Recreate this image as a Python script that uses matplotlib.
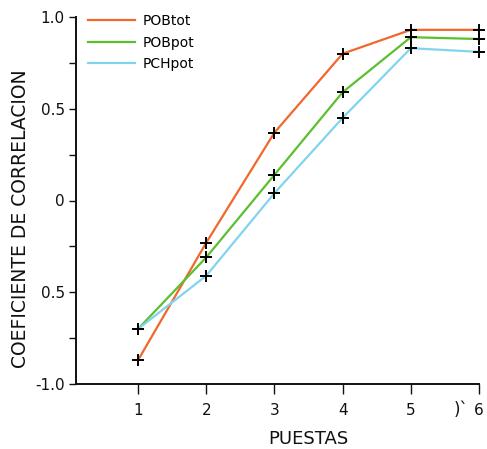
import matplotlib
matplotlib.use("Agg")
import matplotlib.pyplot as plt
from matplotlib.lines import Line2D

# Correlation coefficient by laying number
puestas = [1, 2, 3, 4, 5, 6]
pob_tot = [-0.87, -0.23, 0.37, 0.80, 0.93, 0.93]
pob_pot = [-0.70, -0.31, 0.14, 0.59, 0.89, 0.88]
pch_pot = [-0.70, -0.41, 0.04, 0.45, 0.83, 0.81]

series_names = ["POBtot", "POBpot", "PCHpot"]
series_colors = ["#F0682C", "#5CBF2F", "#82D4EE"]

y_ticks = [-1.0, -0.75, -0.5, -0.25, 0.0, 0.25, 0.5, 0.75, 1.0]
y_tick_labels = ["-1.0", "", "0.5", "", "0", "", "0.5", "", "1.0"]
x_tick_labels = ["1", "2", "3", "4", "5", "6"]

plt.rcParams["font.family"] = ["DejaVu Sans"]

fig = plt.figure(figsize=(4.87, 4.49), dpi=100)
W, H = 487, 449
ax = fig.add_axes([76 / W, 1 - 384 / H, (479 - 76) / W, (384 - 17) / H])

for vals, color in zip([pob_tot, pob_pot, pch_pot], series_colors):
    ax.plot(puestas, vals, color=color, lw=1.6, zorder=2)
    ax.plot(puestas, vals, ls="none", marker="+", ms=8, mew=1.4,
            color="black", zorder=3, clip_on=False)

ax.set_xlim(0.09, 6)
ax.set_ylim(-1.0, 1.0)

for side in ("top", "right"):
    ax.spines[side].set_visible(False)
for side in ("left", "bottom"):
    ax.spines[side].set_linewidth(1.4)
    ax.spines[side].set_color("#111111")

ax.set_yticks(y_ticks)
ax.set_yticklabels(y_tick_labels)
ax.set_xticks(puestas)
ax.set_xticklabels(x_tick_labels)
ax.tick_params(axis="y", direction="out", length=5, width=1.0,
               labelsize=11, pad=3, colors="#111111")
ax.tick_params(axis="x", direction="out", length=7, width=1.0,
               labelsize=11, pad=7, colors="#111111")
# longer end mark at the last laying
ax.set_xticks([6], minor=True)
ax.tick_params(axis="x", which="minor", length=13, width=1.0,
               labelbottom=False)

# axis break sign before 6
ax.annotate(")`", xy=(5.73, 0), xycoords=("data", "axes fraction"),
            xytext=(0, -26), textcoords="offset pixels",
            ha="center", va="center", fontsize=12, color="#111111")

ax.set_xlabel("PUESTAS", fontsize=13, color="#111111")
ax.xaxis.set_label_coords(0.576, -0.125)
ax.set_ylabel("COEFICIENTE DE CORRELACION", fontsize=13.5, color="#111111")
ax.yaxis.set_label_coords(-0.115, 0.45)

handles = [Line2D([], [], color=c, lw=1.6) for c in series_colors]
ax.legend(handles, series_names, loc="upper left",
          bbox_to_anchor=(12 / 403, 1.0 + 3 / 367), frameon=False,
          fontsize=10, handlelength=3.4, handletextpad=0.5,
          labelspacing=0.55, borderpad=0, borderaxespad=0)

fig.savefig("out.png", dpi=100)
